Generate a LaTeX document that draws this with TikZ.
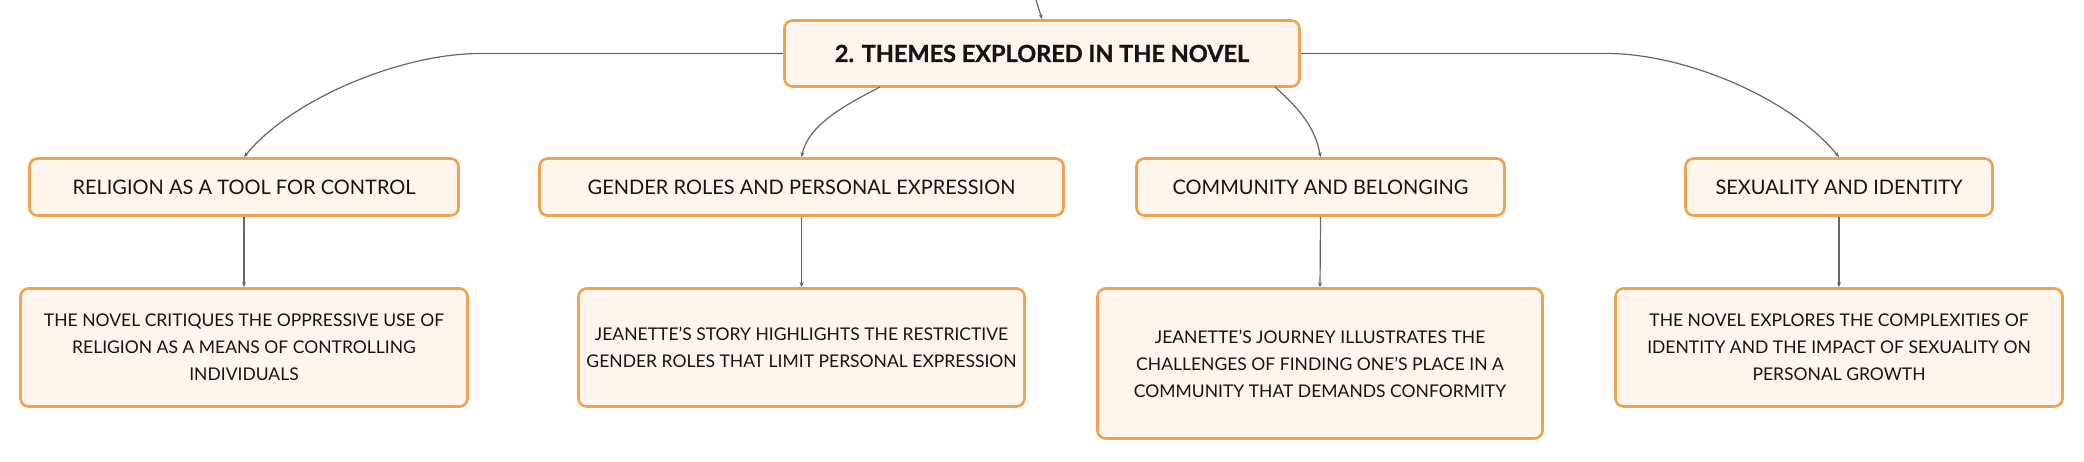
\documentclass[tikz,border=0pt]{standalone}
\usepackage{fontspec}
\setmainfont{Lato}
\newfontfamily\titlefont{Lato}[BoldFeatures={FakeBold=1.2}]
\usetikzlibrary{arrows.meta}
\definecolor{boxborder}{HTML}{F2A24E}
\definecolor{boxfill}{HTML}{FEF5EC}
\definecolor{linkcol}{HTML}{666666}
\definecolor{txt}{HTML}{141414}
\tikzset{
  box/.style={draw=boxborder, line width=2.6pt, fill=boxfill, rounded corners=8pt,
    inner sep=0pt, text=txt, align=center, font=\fontsize{19}{27}\selectfont},
  titlebox/.style={box, font=\fontsize{20}{27}\selectfont, minimum height=57pt},
  detailbox/.style={box, font=\fontsize{17.5}{27}\selectfont},
  link/.style={draw=linkcol, line width=1.2pt, -{Stealth[length=5pt,width=4pt]}}
}
\begin{document}
\begin{tikzpicture}[x=1pt,y=-1pt]
\useasboundingbox (0,0) rectangle (2084,461);
% main
\node[box, minimum width=515pt, minimum height=66pt, font=\titlefont\bfseries\fontsize{23.5}{28}\selectfont] (main) at (1042,53.5) {2. THEMES EXPLORED IN THE NOVEL};
\coordinate (topin) at (1036,0);
% titles
\node[titlebox, minimum width=429pt] (rel) at (244,187) {RELIGION AS A TOOL FOR CONTROL};
\node[titlebox, minimum width=524pt] (gen) at (801.5,187) {GENDER ROLES AND PERSONAL EXPRESSION};
\node[titlebox, minimum width=368pt] (com) at (1320.5,187) {COMMUNITY AND BELONGING};
\node[titlebox, minimum width=307pt] (sex) at (1839,187) {SEXUALITY AND IDENTITY};
% details
\node[detailbox, minimum width=447pt, minimum height=118pt] (reld) at (244,347.5) {THE NOVEL CRITIQUES THE OPPRESSIVE USE OF\\RELIGION AS A MEANS OF CONTROLLING\\INDIVIDUALS};
\node[detailbox, minimum width=446pt, minimum height=118pt] (gend) at (801.5,347.5) {JEANETTE’S STORY HIGHLIGHTS THE RESTRICTIVE\\GENDER ROLES THAT LIMIT PERSONAL EXPRESSION};
\node[detailbox, minimum width=445pt, minimum height=150pt] (comd) at (1320,363.5) {JEANETTE’S JOURNEY ILLUSTRATES THE\\CHALLENGES OF FINDING ONE’S PLACE IN A\\COMMUNITY THAT DEMANDS CONFORMITY};
\node[detailbox, minimum width=447pt, minimum height=118pt] (sexd) at (1839,347.5) {THE NOVEL EXPLORES THE COMPLEXITIES OF\\IDENTITY AND THE IMPACT OF SEXUALITY ON\\PERSONAL GROWTH};
% connectors
\draw[link] (topin) -- (main.north);
\draw[link] (main.west) -- (480,53.5) .. controls (400,53.5) and (290,100) .. (rel.north);
\draw[link] (main.east) -- (1607,53.5) .. controls (1687,53.5) and (1793,100) .. (sex.north);
\draw[link] (880,87) .. controls (845,105) and (808,125) .. (gen.north);
\draw[link] (1275,87) .. controls (1295,105) and (1315,125) .. (com.north);
\draw[link] (rel.south) -- (reld.north);
\draw[link] (gen.south) -- (gend.north);
\draw[link] (com.south) -- (comd.north);
\draw[link] (sex.south) -- (sexd.north);
\end{tikzpicture}
\end{document}
